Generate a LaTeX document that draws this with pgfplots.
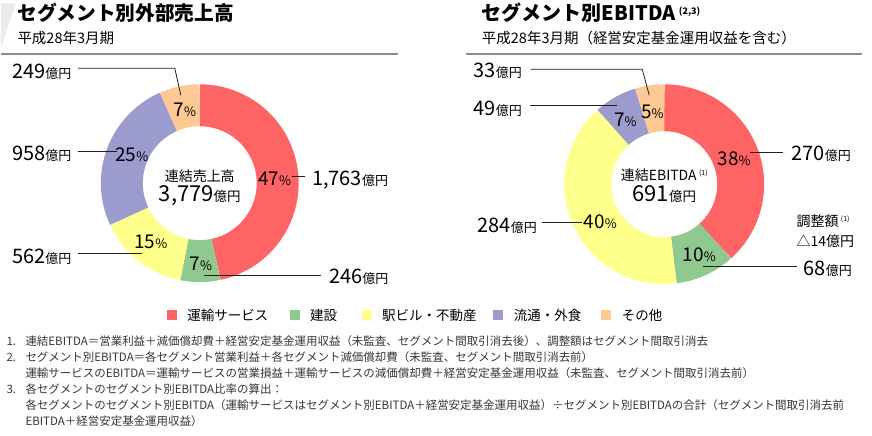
\documentclass[border=0pt]{standalone}
\usepackage{fontspec}
\setmainfont{Noto Sans CJK JP}
\usepackage{pgfplots}
\usepackage{pgfplotstable}
\pgfplotsset{compat=1.18}

\definecolor{c0}{HTML}{FF6464}
\definecolor{c1}{HTML}{8FC98F}
\definecolor{c2}{HTML}{FFFF8C}
\definecolor{c3}{HTML}{9B9BCD}
\definecolor{c4}{HTML}{FFC993}
\definecolor{ink}{HTML}{231F20}
\definecolor{rule}{HTML}{8C8C8C}

% segment values (100 million yen)
\pgfplotstableread{
seg value
transport 1763
construction 246
station 562
retail 958
other 249
}\sales
\pgfplotstableread{
seg value
transport 270
construction 68
station 284
retail 49
other 33
}\ebitda

% donut from a table: #1 table, #2 cx, #3 cy, #4 outer r, #5 inner r
\newcommand\donut[5]{%
  \def\dtot{0}%
  \pgfplotsforeachungrouped \i in {0,...,4}{%
    \pgfplotstablegetelem{\i}{value}\of{#1}%
    \pgfmathsetmacro\dtot{\dtot+\pgfplotsretval}%
  }%
  \def\dacc{0}%
  \pgfmathsetmacro\dmid{(#4+#5)/2}%
  \pgfmathsetmacro\dlw{#4-#5}%
  \pgfplotsforeachungrouped \i in {0,...,4}{%
    \pgfplotstablegetelem{\i}{value}\of{#1}%
    \pgfmathsetmacro\da{\dacc/\dtot*360}%
    \pgfmathsetmacro\dacc{\dacc+\pgfplotsretval}%
    \pgfmathsetmacro\db{\dacc/\dtot*360}%
    \edef\dcmd{\noexpand\addplot[draw=c\i, line width=\dlw pt, line cap=butt, domain=\da:\db, samples=90, variable=\noexpand\t] ({#2+\dmid*sin(\noexpand\t)}, {#3-\dmid*cos(\noexpand\t)});}%
    \dcmd
  }%
}

\newcommand\oku[1]{{\fontsize{20}{20}\selectfont #1}{\fontsize{13}{13}\selectfont 億円}}
\newcommand\pct[1]{{\fontsize{19}{19}\selectfont #1}{\fontsize{13}{13}\selectfont\%}}

\begin{document}
\begin{tikzpicture}
\begin{axis}[
  width=872pt, height=433pt, scale only axis,
  xmin=0, xmax=872, ymin=0, ymax=433, y dir=reverse,
  hide axis, clip=false,
  every node/.style={inner sep=0pt, text=ink},
]
\path (0,0) rectangle (872,433);

% headers
\fill[black!8] (0,0) -- (15,0) -- (0,44) -- cycle;
\node[anchor=base west] at (13,17.5) {\fontsize{19.7}{20}\selectfont\bfseries セグメント別外部売上高};
\node[anchor=base west] at (13,40) {\fontsize{14.5}{15}\selectfont 平成28年3月期};
\draw[rule, line width=2pt] (0,51) -- (397,51);
\node[anchor=base west] at (478,17.5) {\fontsize{20}{20}\selectfont\bfseries セグメント別EBITDA\,{\fontsize{9}{9}\selectfont\raisebox{6pt}{(2,3)}}};
\node[anchor=base west] at (478,40) {\fontsize{14.5}{15}\selectfont 平成28年3月期（経営安定基金運用収益を含む）};
\draw[rule, line width=2pt] (466,51) -- (862,51);

% donuts
\donut{\sales}{199}{180}{99}{57}
\donut{\ebitda}{664}{181}{100}{53}

% left labels
\draw[ink, line width=0.8pt] (77,65) -- (174,65) -- (180,92);
\node[anchor=base east] at (74,75) {\oku{249}};
\node[anchor=base] at (184,113) {\pct{7}};
\draw[ink, line width=0.8pt] (77,148) -- (116,148);
\node[anchor=base east] at (74,157) {\oku{958}};
\node[anchor=base] at (131,158) {\pct{25}};
\node[anchor=base] at (274,182) {\pct{47}};
\draw[ink, line width=0.8pt] (291,173) -- (304,173);
\node[anchor=base west] at (308,182) {\oku{1,763}};
\draw[ink, line width=0.8pt] (77,250) -- (141,250);
\node[anchor=base east] at (74,260) {\oku{562}};
\node[anchor=base] at (150,245) {\pct{15}};
\node[anchor=base] at (200,267) {\pct{7}};
\draw[ink, line width=0.8pt] (203,272) -- (320,272);
\node[anchor=base west] at (325,280) {\oku{246}};
\node[anchor=base] at (199,178) {\fontsize{14}{14}\selectfont 連結売上高};
\node[anchor=base] at (199,198) {{\fontsize{22}{22}\selectfont 3,779}{\fontsize{13.5}{13.5}\selectfont 億円}};

% right labels
\draw[ink, line width=0.8pt] (530,66) -- (642,66) -- (649,92);
\node[anchor=base east] at (525,74) {\oku{33}};
\node[anchor=base] at (652,115) {\pct{5}};
\draw[ink, line width=0.8pt] (530,102) -- (617,102);
\node[anchor=base east] at (525,112) {\oku{49}};
\node[anchor=base] at (625,123) {\pct{7}};
\node[anchor=base] at (734,162) {\pct{38}};
\draw[ink, line width=0.8pt] (750,149) -- (783,149);
\node[anchor=base west] at (788,157) {\oku{270}};
\node[anchor=base west] at (793,223) {\fontsize{14}{14}\selectfont 調整額\,{\fontsize{7}{7}\selectfont\raisebox{5pt}{(1)}}};
\node[anchor=base west] at (793,243) {\fontsize{14}{14}\selectfont △14億円};
\node[anchor=base] at (699,258) {\pct{10}};
\draw[ink, line width=0.8pt] (703,263) -- (797,263);
\node[anchor=base west] at (800,272) {\oku{68}};
\node[anchor=base] at (600,225) {\pct{40}};
\draw[ink, line width=0.8pt] (542,219) -- (582,219);
\node[anchor=base east] at (540,229) {\oku{284}};
\node[anchor=base] at (664,177) {\fontsize{14}{14}\selectfont 連結EBITDA\,{\fontsize{7}{7}\selectfont\raisebox{5pt}{(1)}}};
\node[anchor=base] at (664,198) {{\fontsize{22}{22}\selectfont 691}{\fontsize{13.5}{13.5}\selectfont 億円}};

% legend
\fill[c0] (166,307) rectangle (176,317);
\node[anchor=base west] at (183,317) {\fontsize{13.5}{14}\selectfont 運輸サービス};
\fill[c1] (289,307) rectangle (299,317);
\node[anchor=base west] at (306,317) {\fontsize{13.5}{14}\selectfont 建設};
\fill[c2] (361,307) rectangle (371,317);
\node[anchor=base west] at (378,317) {\fontsize{13.5}{14}\selectfont 駅ビル・不動産};
\fill[c3] (493,307) rectangle (503,317);
\node[anchor=base west] at (510,317) {\fontsize{13.5}{14}\selectfont 流通・外食};
\fill[c4] (601,307) rectangle (611,317);
\node[anchor=base west] at (618,317) {\fontsize{13.5}{14}\selectfont その他};

% footnotes
\begin{scope}[every node/.append style={font=\fontsize{11.5}{12}\selectfont, text=ink!90}]
\node[anchor=base west] at (2,343) {1.};
\node[anchor=base west] at (21,343) {連結EBITDA＝営業利益＋減価償却費＋経営安定基金運用収益（未監査、セグメント間取引消去後）、調整額はセグメント間取引消去};
\node[anchor=base west] at (2,359) {2.};
\node[anchor=base west] at (21,359) {セグメント別EBITDA＝各セグメント営業利益＋各セグメント減価償却費（未監査、セグメント間取引消去前）};
\node[anchor=base west] at (21,375) {運輸サービスのEBITDA＝運輸サービスの営業損益＋運輸サービスの減価償却費＋経営安定基金運用収益（未監査、セグメント間取引消去前）};
\node[anchor=base west] at (2,391) {3.};
\node[anchor=base west] at (21,391) {各セグメントのセグメント別EBITDA比率の算出：};
\node[anchor=base west] at (21,407) {各セグメントのセグメント別EBITDA（運輸サービスはセグメント別EBITDA＋経営安定基金運用収益）÷セグメント別EBITDAの合計（セグメント間取引消去前};
\node[anchor=base west] at (21,423) {EBITDA＋経営安定基金運用収益）};
\end{scope}
\end{axis}
\end{tikzpicture}
\end{document}
